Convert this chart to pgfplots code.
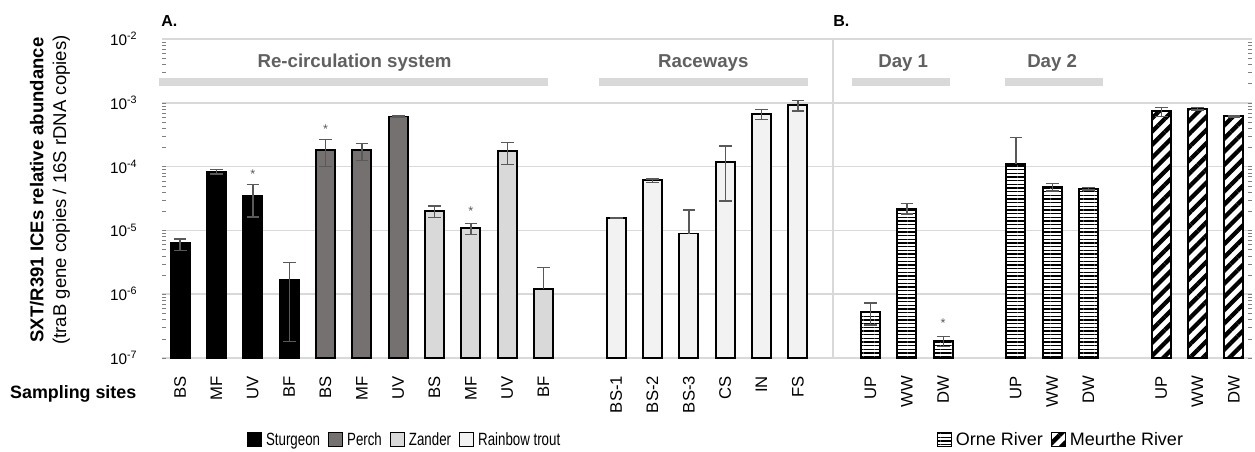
\documentclass[border=0pt]{standalone}
\usepackage{fontspec}
\setmainfont{Liberation Sans}
\newfontfamily\narrowfont[FakeStretch=0.75]{Liberation Sans}
\usepackage{pgfplots}
\pgfplotsset{compat=1.18}
\usetikzlibrary{patterns.meta}

\definecolor{errgray}{HTML}{595959}
\definecolor{gridgray}{HTML}{D9D9D9}
\definecolor{perch}{HTML}{767171}
\definecolor{zander}{HTML}{D9D9D9}
\definecolor{trout}{HTML}{F2F2F2}
\definecolor{hdr}{HTML}{606060}

\pgfplotsset{
  errs/.style={error bars/.cd, y dir=both, y explicit,
    error bar style={errgray, line width=1pt},
    error mark options={errgray, rotate=90, mark size=4.75pt, line width=1pt}},
  errsplus/.style={error bars/.cd, y dir=plus, y explicit,
    error bar style={errgray, line width=1pt},
    error mark options={errgray, rotate=90, mark size=4.75pt, line width=1pt}},
  barsq/.style={legend image code/.code={\draw[##1, line width=0.8pt] (0pt,-5pt) rectangle (10.5pt,5.5pt);}},
  orne/.style={fill=white, postaction={pattern={Lines[angle=0, distance=2.75pt, line width=1.2pt]}, pattern color=black}},
  meur/.style={fill=white, postaction={pattern={Lines[angle=45, distance=7pt, line width=3.2pt]}, pattern color=black}},
}

\begin{document}
\begin{tikzpicture}
\useasboundingbox (-121.5pt,-70.5pt) rectangle (819.75pt,268.5pt);
\begin{axis}[
  scale only axis, width=817.5pt, height=239.25pt,
  ymode=log, log origin y=infty,
  xmin=-0.5, xmax=29.5, ymin=1e-7, ymax=1e-2,
  ytick={1e-7,1e-6,1e-5,1e-4,1e-3,1e-2},
  yticklabels={10\textsuperscript{-7},10\textsuperscript{-6},10\textsuperscript{-5},10\textsuperscript{-4},10\textsuperscript{-3},10\textsuperscript{-2}},
  ymajorgrids, grid style={gridgray, line width=1.2pt},
  axis line style={draw=none},
  major tick length=0pt,
  xtick={0,1,2,3,4,5,6,7,8,9,10,12,13,14,15,16,17,19,20,21,23,24,25,27,28,29},
  xticklabels={BS,MF,UV,BF,BS,MF,UV,BS,MF,UV,BF,BS-1,BS-2,BS-3,CS,IN,FS,UP,WW,DW,UP,WW,DW,UP,WW,DW},
  xticklabel style={font=\fontsize{12.5}{14}\selectfont, rotate=90, anchor=east},
  xticklabel shift=10pt,
  yticklabel style={font=\fontsize{11.5}{13}\selectfont},
  yticklabel shift=15pt,
  clip=false,
  every axis plot/.append style={ybar, bar width=14.25pt, bar shift=0pt, draw=black, line width=1.3pt, forget plot},
  legend style={at={(rel axis cs:0.2229,-0.257)}, anchor=center, draw=none, fill=none,
    legend columns=4, font=\narrowfont\fontsize{13.3}{15}\selectfont,
    /tikz/every even column/.append style={column sep=4pt},
    /tikz/every odd column/.append style={column sep=1pt}},
]
% Sturgeon
\addplot[fill=black, errs] coordinates {
 (0,6.3e-6) += (0,1.0e-6) -= (0,1.4e-6)
 (1,8.3e-5) += (0,0.65e-5) -= (0,0.65e-5)
 (2,3.46e-5) += (0,1.81e-5) -= (0,1.84e-5)
 (3,1.67e-6) += (0,1.45e-6) -= (0,1.49e-6)
};
% Perch
\addplot[fill=perch, errs] coordinates {
 (4,1.8e-4) += (0,0.84e-4) -= (0,0.80e-4)
 (5,1.8e-4) += (0,0.52e-4) -= (0,0.56e-4)
 (6,6.07e-4) += (0,0.15e-4) -= (0,0.15e-4)
};
% Zander
\addplot[fill=zander, errs] coordinates {
 (7,1.99e-5) += (0,0.42e-5) -= (0,0.41e-5)
 (8,1.08e-5) += (0,0.21e-5) -= (0,0.22e-5)
 (9,1.74e-4) += (0,0.63e-4) -= (0,0.65e-4)
};
\addplot[fill=zander, errsplus] coordinates {
 (10,1.22e-6) += (0,1.38e-6) -= (0,0)
};
% Rainbow trout
\addplot[fill=trout, errs] coordinates {
 (12,1.55e-5) += (0,0.03e-5) -= (0,0.03e-5)
 (13,6.1e-5) += (0,0.3e-5) -= (0,0.5e-5)
 (15,1.18e-4) += (0,0.92e-4) -= (0,0.89e-4)
 (16,6.74e-4) += (0,1.16e-4) -= (0,1.24e-4)
 (17,9.25e-4) += (0,1.65e-4) -= (0,1.85e-4)
};
\addplot[fill=trout, errsplus] coordinates {
 (14,8.9e-6) += (0,1.2e-5) -= (0,0)
};
% Orne River
\addplot[orne, errs] coordinates {
 (19,5.3e-7) += (0,2.0e-7) -= (0,2.0e-7)
 (20,2.19e-5) += (0,0.43e-5) -= (0,0.38e-5)
 (21,1.83e-7) += (0,0.36e-7) -= (0,0.33e-7)
 (24,4.79e-5) += (0,0.68e-5) -= (0,0.64e-5)
 (25,4.5e-5) += (0,0.2e-5) -= (0,0.2e-5)
};
\addplot[orne, errsplus] coordinates {
 (23,1.11e-4) += (0,1.73e-4) -= (0,0)
};
% Meurthe River
\addplot[meur, errs] coordinates {
 (27,7.36e-4) += (0,1.14e-4) -= (0,1.29e-4)
 (28,8.0e-4) += (0,0.5e-4) -= (0,0.3e-4)
 (29,6.2e-4) += (0,0.2e-4) -= (0,0.2e-4)
};

\addlegendimage{barsq, fill=black}\addlegendentry{Sturgeon}
\addlegendimage{barsq, fill=perch}\addlegendentry{Perch}
\addlegendimage{barsq, fill=zander}\addlegendentry{Zander}
\addlegendimage{barsq, fill=trout}\addlegendentry{Rainbow trout}

% separator
\draw[gridgray, line width=1.2pt] (axis cs:17.96,1e-7) -- (axis cs:17.96,1e-2);
% group headers
\draw[gridgray, line width=5.5pt] (axis cs:-0.58,2.11e-3) -- (axis cs:10.13,2.11e-3);
\draw[gridgray, line width=5.5pt] (axis cs:11.53,2.11e-3) -- (axis cs:17.29,2.11e-3);
\draw[gridgray, line width=5.5pt] (axis cs:18.5,2.11e-3) -- (axis cs:21.2,2.11e-3);
\draw[gridgray, line width=5.5pt] (axis cs:22.7,2.11e-3) -- (axis cs:25.4,2.11e-3);
\begin{scope}[every node/.style={font=\bfseries\fontsize{14}{16}\selectfont, text=hdr}]
\node at (axis cs:4.8,4.2e-3) {Re-circulation system};
\node at (axis cs:14.4,4.2e-3) {Raceways};
\node at (axis cs:19.9,4.2e-3) {Day 1};
\node at (axis cs:24.0,4.2e-3) {Day 2};
\end{scope}
% significance stars
\begin{scope}[every node/.style={font=\fontsize{9.5}{10}\selectfont, text=errgray}]
\node at (axis cs:2,7.66e-5) {*};
\node at (axis cs:4,3.89e-4) {*};
\node at (axis cs:8,2.01e-5) {*};
\node at (axis cs:21,3.57e-7) {*};
\end{scope}
\end{axis}

\begin{axis}[
  scale only axis, width=817.5pt, height=239.25pt,
  hide axis, xmin=0, xmax=1, ymin=0, ymax=1,
  legend style={at={(rel axis cs:0.825,-0.257)}, anchor=center, draw=none, fill=none,
    legend columns=2, font=\fontsize{13.5}{15}\selectfont,
    /tikz/every even column/.append style={column sep=4pt},
    /tikz/every odd column/.append style={column sep=1pt}},
]
\addlegendimage{barsq, orne}\addlegendentry{Orne River}
\addlegendimage{barsq, meur}\addlegendentry{Meurthe River}
\end{axis}

\node[anchor=west, font=\bfseries\fontsize{12}{14}\selectfont] at (-4pt,253pt) {A.};
\node[anchor=west, font=\bfseries\fontsize{12}{14}\selectfont] at (500pt,253pt) {B.};
\node[anchor=east, font=\bfseries\fontsize{13.4}{16}\selectfont] at (-15.75pt,-27pt) {Sampling sites};
\node[rotate=90, align=center, font=\fontsize{13.9}{17}\selectfont] at (-84pt,126pt)
  {{\bfseries SXT/R391 ICEs relative abundance}\\(traB gene copies / 16S rDNA copies)};
\end{tikzpicture}
\end{document}
